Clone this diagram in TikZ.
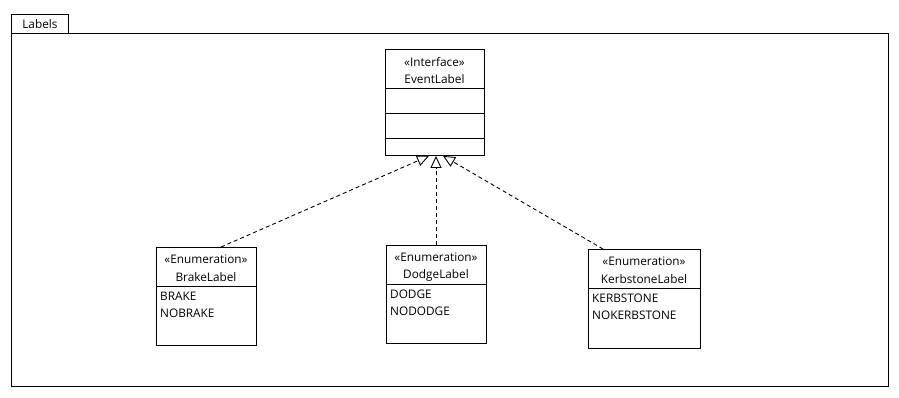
\documentclass[tikz,border=0pt]{standalone}
\usepackage{fontspec}
\setmainfont{Open Sans}
\usetikzlibrary{arrows.meta,calc}
\begin{document}
\begin{tikzpicture}[x=1pt,y=-1pt,
  every node/.style={font=\fontsize{11.8}{13}\selectfont, inner sep=0pt},
  frame/.style={draw=black, line width=0.9pt},
  classbox/.style={draw=black, line width=0.9pt, fill=white, anchor=north west},
  divider/.style={line width=0.9pt},
  realize/.style={dashed, dash pattern=on 4pt off 3pt, line width=0.9pt,
    -{Triangle[open, length=12pt, width=11pt, line width=0.9pt]}},
  entry/.style={anchor=west}]
  \useasboundingbox (0,0) rectangle (899,397);
  \fill[white] (0,0) rectangle (899,397);

  % package frame with its tab
  \node[frame, anchor=north west, minimum width=57pt, minimum height=19pt] (tab) at (11,14) {};
  \node at (tab.center) {Labels};
  \node[frame, anchor=north west, minimum width=877pt, minimum height=353pt] (pkg) at (11,33) {};

  % interface
  \node[classbox, minimum width=99pt, minimum height=106pt] (event) at (385,49) {};
  \node at (434.5,62) {«Interface»};
  \node at (434.5,79) {EventLabel};
  \draw[divider] ($(event.north west)+(0,39)$) -- ($(event.north east)+(0,39)$);
  \draw[divider] ($(event.north west)+(0,64)$) -- ($(event.north east)+(0,64)$);
  \draw[divider] ($(event.north west)+(0,89)$) -- ($(event.north east)+(0,89)$);

  % enumerations
  \node[classbox, minimum width=100pt, minimum height=98pt] (brake) at (156,247) {};
  \node at (206,259) {«Enumeration»};
  \node at (206,277) {BrakeLabel};
  \draw[divider] ($(brake.north west)+(0,39)$) -- ($(brake.north east)+(0,39)$);
  \node[entry] at (160,296) {BRAKE};
  \node[entry] at (160,313) {NOBRAKE};

  \node[classbox, minimum width=100pt, minimum height=98pt] (dodge) at (386,245) {};
  \node at (436,257) {«Enumeration»};
  \node at (436,275) {DodgeLabel};
  \draw[divider] ($(dodge.north west)+(0,39)$) -- ($(dodge.north east)+(0,39)$);
  \node[entry] at (390,294) {DODGE};
  \node[entry] at (390,311) {NODODGE};

  \node[classbox, minimum width=112pt, minimum height=99pt] (kerb) at (588,249) {};
  \node at (644,261) {«Enumeration»};
  \node at (644,279) {KerbstoneLabel};
  \draw[divider] ($(kerb.north west)+(0,39)$) -- ($(kerb.north east)+(0,39)$);
  \node[entry] at (592,298) {KERBSTONE};
  \node[entry] at (592,315) {NOKERBSTONE};

  % realization connectors
  \coordinate (bs) at ($(brake.north west)+(65,0)$);
  \coordinate (ds) at ($(dodge.north west)+(50,0)$);
  \coordinate (ks) at ($(kerb.north west)+(15,0)$);
  \coordinate (bt) at ($(event.south west)+(44,0)$);
  \coordinate (dt) at ($(event.south west)+(51,0)$);
  \coordinate (kt) at ($(event.south west)+(58,0)$);
  \draw[realize] (bs) -- (bt);
  \draw[realize] (ds) -- (dt);
  \draw[realize] (ks) -- (kt);
\end{tikzpicture}
\end{document}
